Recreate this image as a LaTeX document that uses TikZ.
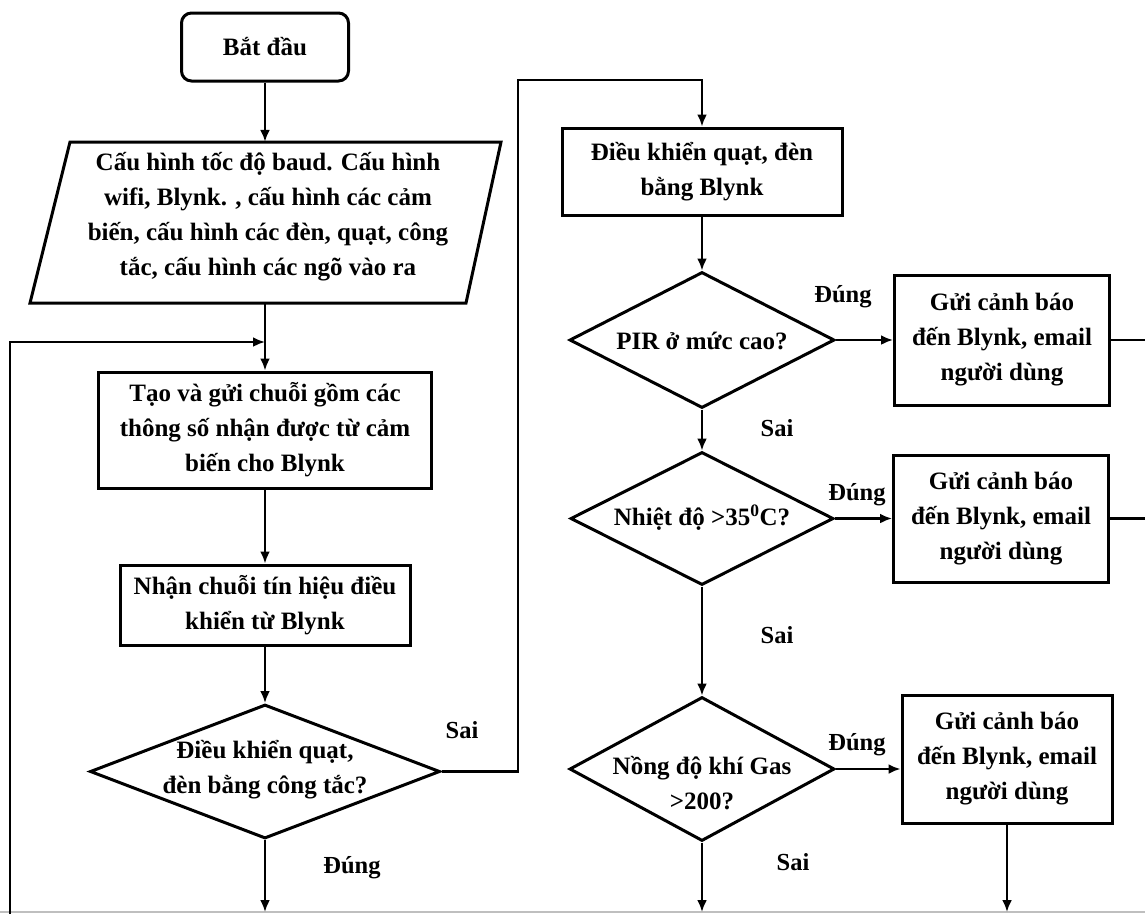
\documentclass[tikz,border=0pt]{standalone}
\usepackage{fontspec}
\setmainfont{Liberation Serif}
\usetikzlibrary{shapes.geometric,arrows.meta}
\begin{document}
\begin{tikzpicture}[x=1pt,y=-1pt,
  every node/.style={font=\fontsize{25}{35}\selectfont\bfseries, align=center, inner sep=0pt},
  box/.style={draw, line width=3pt},
  dia/.style={draw, diamond, line width=3pt},
  arr/.style={line width=2.5pt, -{Latex[length=12pt,width=10pt]}},
  ln/.style={line width=2.5pt},
  lbl/.style={font=\fontsize{24.5}{28}\selectfont\bfseries}]
\useasboundingbox (0,0) rectangle (1145,914);
\fill[white] (0,0) rectangle (1145,914);
\draw[black!25, line width=1.5pt] (0,912) -- (1145,912);

% left column
\node[box, rounded corners=10pt, minimum width=167, minimum height=68] (start) at (265,47) {Bắt đầu};
\node[minimum width=420, minimum height=161] (cfg) at (265,222.5) {};
\draw[line width=3pt] (70,142) -- (501,142) -- (466,303) -- (30,303) -- cycle;
\node at (268,217) {Cấu hình tốc độ baud. Cấu hình\\wifi, Blynk. , cấu hình các cảm\\biến, cấu hình các đèn, quạt, công\\tắc, cấu hình các ngõ vào ra};
\node[box, minimum width=333, minimum height=116] (gen) at (265,430) {Tạo và gửi chuỗi gồm các\\thông số nhận được từ cảm\\biến cho Blynk};
\node[box, minimum width=290, minimum height=80] (recv) at (265,605) {Nhận chuỗi tín hiệu điều\\khiển từ Blynk};
\node[dia, minimum width=350, minimum height=134] (d1) at (265,771.5) {};
\node at (265,770) {Điều khiển quạt,\\đèn bằng công tắc?};

% right column
\node[box, minimum width=280, minimum height=87] (ctrl) at (702,171.5) {Điều khiển quạt, đèn\\bằng Blynk};
\node[dia, minimum width=265, minimum height=136] (d2) at (702,340) {};
\node at (702,341) {PIR ở mức cao?};
\node[dia, minimum width=263, minimum height=133] (d3) at (702,518.5) {};
\node at (702,518) {Nhiệt độ >35\textsuperscript{0}C?};
\node[dia, minimum width=265, minimum height=144] (d4) at (702,769) {};
\node at (702,783) {Nồng độ khí Gas\\>200?};

\node[box, minimum width=215, minimum height=130] (g1) at (1002,340) {Gửi cảnh báo\\đến Blynk, email\\người dùng};
\node[box, minimum width=215, minimum height=127] (g2) at (1001,518.5) {Gửi cảnh báo\\đến Blynk, email\\người dùng};
\node[box, minimum width=210, minimum height=128] (g3) at (1007,759) {Gửi cảnh báo\\đến Blynk, email\\người dùng};

% helper coordinates
\coordinate (bot) at (0,912);
\coordinate (edge) at (1145,0);
\coordinate (loopbot) at (10,914);
\coordinate (loopin) at (265,342);
\coordinate (j1) at (518,80);

% connectors left
\draw[arr] (start.south) -- (cfg.north);
\draw[arr] (cfg.south) -- (gen.north);
\draw[arr] (loopbot) |- (loopin);
\draw[arr] (gen.south) -- (recv.north);
\draw[arr] (recv.south) -- (d1.north);
\draw[arr] (d1.south) -- (d1.south |- bot);
\draw[arr] (d1.east) -| (j1) -| (ctrl.north);

% connectors right
\draw[arr] (ctrl.south) -- (d2.north);
\draw[arr] (d2.south) -- (d3.north);
\draw[arr] (d3.south) -- (d4.north);
\draw[arr] (d4.south) -- (d4.south |- bot);
\draw[arr] (d2.east) -- (d2.east -| g1.west);
\draw[arr] (d3.east) -- (d3.east -| g2.west);
\draw[arr] (d4.east) -- (d4.east -| g3.west);
\draw[ln] (g1.east) -- (g1.east -| edge);
\draw[ln] (g2.east) -- (g2.east -| edge);
\draw[arr] (g3.south) -- (g3.south |- bot);

% labels
\node[lbl] (s1) at (462,730) {Sai};
\node[lbl] (t1) at (352,868) {Đúng};
\node[lbl] (t2) at (843,297) {Đúng};
\node[lbl] (s2) at (777,428) {Sai};
\node[lbl] (t3) at (857,495) {Đúng};
\node[lbl] (s3) at (777,635) {Sai};
\node[lbl] (t4) at (857,745) {Đúng};
\node[lbl] (s4) at (793,862) {Sai};
\end{tikzpicture}
\end{document}
